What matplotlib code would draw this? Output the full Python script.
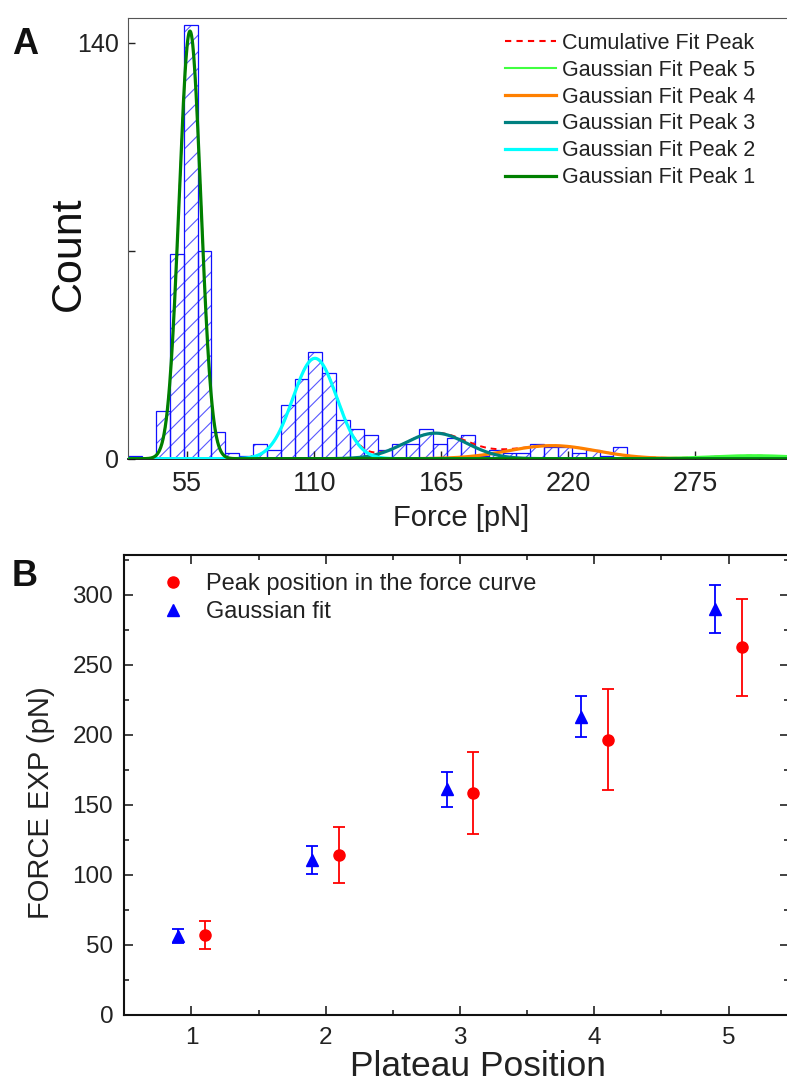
import numpy as np
import matplotlib
matplotlib.use("Agg")
import matplotlib.pyplot as plt
from matplotlib.lines import Line2D
from matplotlib.ticker import FixedLocator, MultipleLocator

plt.rcParams["font.family"] = ["Liberation Sans", "DejaVu Sans"]
plt.rcParams["hatch.linewidth"] = 0.8

# ---------------- Panel A: force histogram ----------------
bin_start = 29.5
bin_width = 6.0
counts = [1, 0, 16, 69, 146, 70, 9, 2, 1, 5, 3, 18, 27, 36, 29, 13, 10, 8, 3, 5,
          5, 10, 5, 7, 8, 1, 3, 2, 2, 5, 4, 4, 2, 3, 1, 4, 0, 0, 0, 0,
          0, 0, 1, 1, 0, 1, 0, 1]

# Gaussian fit parameters (peak 1 .. peak 5)
peak_names = ["Gaussian Fit Peak 1", "Gaussian Fit Peak 2", "Gaussian Fit Peak 3",
              "Gaussian Fit Peak 4", "Gaussian Fit Peak 5"]
peak_centers = [56.2, 110.3, 162.5, 213.0, 300.0]
peak_sigmas = [4.7, 9.5, 13.5, 19.0, 18.0]
peak_amplitudes = [144.0, 33.8, 8.6, 4.4, 1.0]
peak_colors = ["#008000", "#00FFFF", "#008080", "#FF8000", "#40FF40"]

force_ticks = [55, 110, 165, 220, 275]

# ---------------- Panel B: plateau forces ----------------
plateau = [1, 2, 3, 4, 5]
peak_force = [57, 114, 158.4, 196.5, 262.5]
peak_force_err = [10, 20, 29.2, 36, 34.7]
gauss_force = [56, 110.5, 161, 213, 290]
gauss_force_err = [5, 10, 12.5, 14.5, 17.3]

W, H = 787, 1082
fig = plt.figure(figsize=(W / 100, H / 100), dpi=100)


def px_axes(left, top, right, bottom):
    return fig.add_axes([left / W, 1 - bottom / H, (right - left) / W, (bottom - top) / H])


# ---- top panel ----
axA = px_axes(128.3, 18.3, 789, 458.7)
edges = bin_start + bin_width * np.arange(len(counts))
axA.bar(edges, counts, width=bin_width, align="edge", facecolor="none",
        edgecolor="#5858FF", hatch="//", linewidth=0)
axA.bar(edges, counts, width=bin_width, align="edge", facecolor="none",
        edgecolor="#1010FF", linewidth=0.9)

xlo, xhi = 29.5, 315.5
xs = np.linspace(xlo, xhi, 1200)
curves = [a * np.exp(-0.5 * ((xs - c) / s) ** 2)
          for c, s, a in zip(peak_centers, peak_sigmas, peak_amplitudes)]
cumulative = np.sum(curves, axis=0)
axA.plot(xs, cumulative, color="#FF0000", lw=1.4, ls=(0, (3, 2.5)), zorder=3)
for i in [4, 3, 2, 1, 0]:
    axA.plot(xs, curves[i], color=peak_colors[i], lw=2.3, zorder=4,
             solid_capstyle="butt")

axA.set_xlim(xlo, xhi)
axA.set_ylim(0, 148.3)
axA.xaxis.set_major_locator(FixedLocator(force_ticks))
axA.xaxis.set_minor_locator(FixedLocator([82.5, 137.5, 192.5, 247.5, 302.5]))
axA.set_yticks([0, 70, 140])
axA.set_yticklabels(["0", "", "140"])
axA.tick_params(which="both", direction="in", top=False, right=False,
                width=1.0, colors="#222222")
axA.tick_params(axis="x", which="major", length=5.5, pad=9, labelsize=19.5)
axA.tick_params(axis="x", which="minor", length=3)
axA.tick_params(axis="y", which="major", length=5, pad=7, labelsize=18)
for side in ["left", "top", "right"]:
    axA.spines[side].set_color("#555555")
    axA.spines[side].set_linewidth(0.8)
axA.spines["bottom"].set_color("#111111")
axA.spines["bottom"].set_linewidth(1.3)

axA.set_xlabel("Force [pN]", fontsize=21, color="#222222")
axA.xaxis.label.set_va("center")
axA.xaxis.set_label_coords((461 - 128.3) / (789 - 128.3), (458.7 - 518) / 440.4)
axA.set_ylabel("Count", fontsize=31, color="#111111")
axA.yaxis.label.set_va("center")
axA.yaxis.set_label_coords((69 - 128.3) / (789 - 128.3), (458.7 - 254) / 440.4)

handlesA = [Line2D([], [], color="#FF0000", lw=1.5, ls=(0, (3, 2.5)))]
labelsA = ["Cumulative Fit Peak"]
for i in [4, 3, 2, 1, 0]:
    handlesA.append(Line2D([], [], color=peak_colors[i], lw=1.5 if i == 4 else 2.3))
    labelsA.append(peak_names[i])
fig.legend(handlesA, labelsA, loc="upper left",
           bbox_to_anchor=(505 / W, 1 - 33 / H), bbox_transform=fig.transFigure,
           frameon=False, fontsize=15.5, handlelength=2.37, handletextpad=0.27,
           labelspacing=0.27, borderpad=0, borderaxespad=0, labelcolor="#222222")

fig.text(12 / W, 1 - 44 / H, "A", fontsize=26, fontweight="bold", va="center",
         ha="left", color="#111111")

# ---- bottom panel ----
axB = px_axes(124.3, 555, 789, 1014.5)
xs_peak = np.array(plateau) + 0.1
xs_gauss = np.array(plateau) - 0.1
axB.errorbar(xs_peak, peak_force, yerr=peak_force_err, fmt="o", color="#FF0000",
             ms=8, elinewidth=1.3, capsize=4, capthick=1.3)
axB.errorbar(xs_gauss, gauss_force, yerr=gauss_force_err, fmt="^", color="#0000FF",
             ms=9, elinewidth=1.3, capsize=4, capthick=1.3)

axB.set_xlim(0.5, 5.45)
axB.set_ylim(0, 328.6)
axB.xaxis.set_major_locator(MultipleLocator(1))
axB.xaxis.set_minor_locator(MultipleLocator(0.5))
axB.yaxis.set_major_locator(MultipleLocator(50))
axB.yaxis.set_minor_locator(MultipleLocator(25))
axB.tick_params(which="both", direction="in", top=True, right=True,
                labelsize=17.5, width=1.2, colors="#222222")
axB.tick_params(which="major", length=6.5)
axB.tick_params(which="minor", length=3.6)
axB.tick_params(axis="x", pad=9)
axB.tick_params(axis="y", pad=8)
for side in axB.spines.values():
    side.set_linewidth(1.5)
    side.set_color("#111111")

axB.set_xlabel("Plateau Position", fontsize=25.5, color="#222222")
axB.xaxis.label.set_va("center")
axB.xaxis.set_label_coords((478 - 124.3) / (789 - 124.3), (1014.5 - 1067) / 459.5)
axB.set_ylabel("FORCE EXP (pN)", fontsize=21, color="#222222")
axB.yaxis.label.set_va("center")
axB.yaxis.set_label_coords((41 - 124.3) / (789 - 124.3), (1014.5 - 803) / 459.5)

handlesB = [Line2D([], [], ls="none", marker="o", color="#FF0000", ms=8),
            Line2D([], [], ls="none", marker="^", color="#0000FF", ms=9)]
fig.legend(handlesB, ["Peak position in the force curve", "Gaussian fit"],
           loc="upper left", bbox_to_anchor=(161 / W, 1 - 573 / H),
           bbox_transform=fig.transFigure, frameon=False, fontsize=17,
           handlelength=1.0, handletextpad=0.89, labelspacing=0.26,
           borderpad=0, borderaxespad=0, labelcolor="#222222")

fig.text(12 / W, 1 - 577 / H, "B", fontsize=26, fontweight="bold", va="center",
         ha="left", color="#111111")

fig.savefig("out.png", dpi=100)
